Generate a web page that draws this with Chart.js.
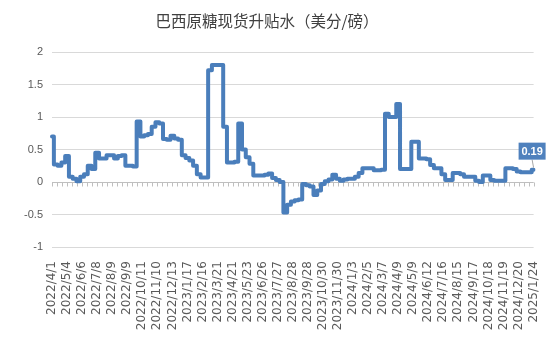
<!DOCTYPE html>
<html>
<head>
<meta charset="utf-8">
<script src="https://cdn.jsdelivr.net/npm/chart.js@4.4.1/dist/chart.umd.min.js"></script>
<style>
    html, body { margin: 0; padding: 0; background: #fff; }
</style>
</head>
<body>
<canvas id="chart" width="554" height="362"></canvas>
<script>
// Data
const TITLE = '巴西原糖现货升贴水（美分/磅）';

// tick labels on the category axis (one every 4 samples)
const dates = [
    '2022/4/1', '2022/5/4', '2022/6/6', '2022/7/8', '2022/8/9', '2022/9/9',
    '2022/10/11', '2022/11/10', '2022/12/13', '2023/1/17', '2023/2/16', '2023/3/21',
    '2023/4/21', '2023/5/23', '2023/6/26', '2023/7/27', '2023/8/28', '2023/9/28',
    '2023/10/30', '2023/11/30', '2024/1/3', '2024/2/5', '2024/3/7', '2024/4/9',
    '2024/5/9', '2024/6/12', '2024/7/16', '2024/8/15', '2024/9/17', '2024/10/18',
    '2024/11/19', '2024/12/20', '2025/1/24'
];
const perLabel = 4;

// spot premium, cents/lb
const premium = [
    0.70, 0.27, 0.25, 0.30, 0.40, 0.08, 0.05, 0.01,
    0.08, 0.12, 0.25, 0.20, 0.45, 0.36, 0.36, 0.41,
    0.41, 0.36, 0.40, 0.41, 0.25, 0.25, 0.24, 0.93,
    0.70, 0.72, 0.74, 0.85, 0.92, 0.90, 0.66, 0.65,
    0.71, 0.67, 0.65, 0.41, 0.37, 0.33, 0.25, 0.12,
    0.07, 0.07, 1.72, 1.80, 1.80, 1.80, 0.85, 0.30,
    0.30, 0.31, 0.90, 0.50, 0.38, 0.28, 0.10, 0.10,
    0.10, 0.11, 0.13, 0.06, 0.03, 0.00, -0.47, -0.35,
    -0.30, -0.28, -0.27, -0.03, -0.05, -0.07, -0.20, -0.13,
    -0.03, 0.01, 0.04, 0.11, 0.05, 0.02, 0.04, 0.05,
    0.05, 0.08, 0.14, 0.21, 0.21, 0.21, 0.18, 0.18,
    0.19, 1.05, 1.00, 1.00, 1.20, 0.20, 0.20, 0.20,
    0.62, 0.62, 0.36, 0.36, 0.35, 0.26, 0.21, 0.21,
    0.12, 0.03, 0.03, 0.14, 0.14, 0.12, 0.08, 0.08,
    0.08, 0.02, 0.00, 0.10, 0.10, 0.03, 0.02, 0.02,
    0.02, 0.21, 0.21, 0.20, 0.16, 0.15, 0.15, 0.15,
    0.19
];

const labels = premium.map((v, i) => i % perLabel === 0 ? dates[i / perLabel] : '');

// title, zero axis with small ticks, and last value box
const decor = {
    id: 'decor',
    beforeDatasetsDraw(chart) {
        const {ctx, chartArea: a, scales: {y}} = chart;
        const y0 = Math.round(y.getPixelForValue(0)) + 0.5;
        ctx.save();
        ctx.strokeStyle = '#bfbfbf';
        ctx.lineWidth = 1;
        ctx.beginPath();
        ctx.moveTo(a.left, y0);
        ctx.lineTo(a.right, y0);
        const n = 96;
        for (let k = 0; k <= n; k++) {
            const x = Math.round(a.left + k * (a.right - a.left) / n) + 0.5;
            ctx.moveTo(x, y0);
            ctx.lineTo(x, y0 + 4);
        }
        ctx.stroke();
        ctx.restore();
    },
    afterDraw(chart) {
        const ctx = chart.ctx;
        ctx.save();
        ctx.font = '15.5px "Noto Sans CJK SC"';
        ctx.fillStyle = '#404040';
        ctx.textAlign = 'center';
        ctx.textBaseline = 'middle';
        ctx.fillText(TITLE, 267, 21);

        const meta = chart.getDatasetMeta(0);
        const pt = meta.data[meta.data.length - 1];
        const w = 27, h = 17;
        const cx = pt.x - 1.5, bottom = pt.y - 10;
        ctx.strokeStyle = '#a6a6a6';
        ctx.lineWidth = 1;
        ctx.beginPath();
        ctx.moveTo(cx, bottom);
        ctx.lineTo(pt.x, pt.y - 2);
        ctx.stroke();
        ctx.fillStyle = '#4f81bd';
        ctx.fillRect(cx - w / 2, bottom - h, w, h);
        ctx.fillStyle = '#fff';
        ctx.font = 'bold 11px "Liberation Sans"';
        ctx.fillText(premium[premium.length - 1].toFixed(2), cx, bottom - h / 2 + 0.5);
        ctx.restore();
    }
};

const ctx = document.getElementById('chart').getContext('2d');
const myChart = new Chart(ctx, {
    type: 'line',
    data: {
        labels: labels,
        datasets: [{
            label: TITLE,
            data: premium,
            borderColor: '#4a7ebb',
            borderWidth: 4,
            borderJoinStyle: 'round',
            borderCapStyle: 'round',
            pointRadius: 0,
            stepped: 'middle',
            fill: false
        }]
    },
    options: {
        responsive: false,
        animation: false,
        layout: {
            padding: {top: 52, left: 6, right: 17, bottom: 0}
        },
        plugins: {
            legend: false,
            title: {display: false},
            tooltip: {enabled: false}
        },
        scales: {
            x: {
                type: 'category',
                offset: false,
                grid: {display: false},
                border: {display: false},
                ticks: {
                    autoSkip: false,
                    maxRotation: 90,
                    minRotation: 90,
                    padding: 6,
                    color: '#595959',
                    font: {family: '"DejaVu Sans"', size: 12}
                },
                afterFit: s => { s.height = 115; }
            },
            y: {
                min: -1,
                max: 2,
                grid: {color: '#d9d9d9', drawTicks: false},
                border: {display: false},
                ticks: {
                    stepSize: 0.5,
                    padding: 9,
                    color: '#595959',
                    font: {family: '"Liberation Sans"', size: 11},
                    callback: v => String(v)
                },
                afterFit: s => { s.width = 46; }
            }
        }
    },
    plugins: [decor]
});
</script>
</body>
</html>
